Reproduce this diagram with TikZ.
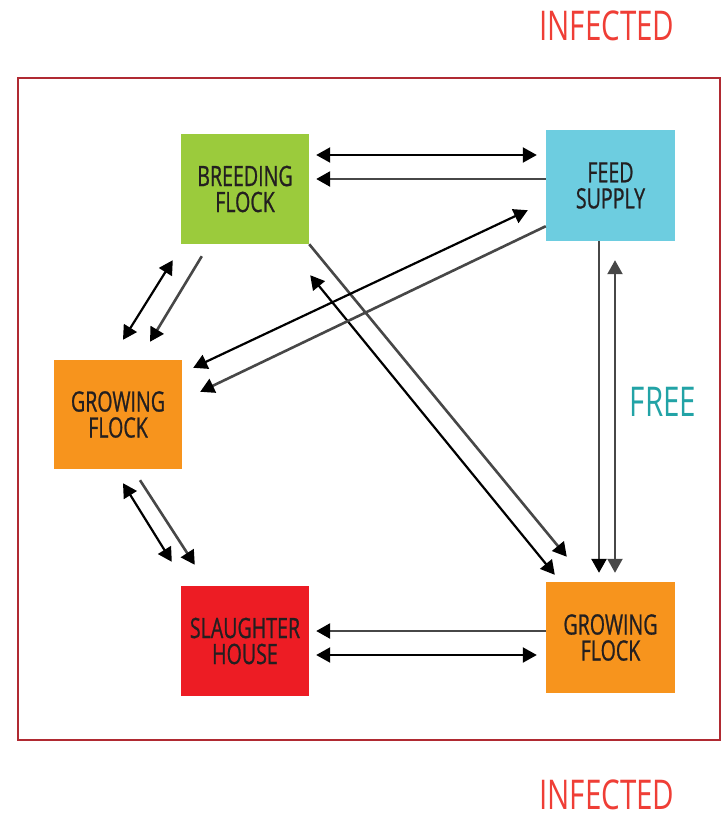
\documentclass[tikz,border=0pt]{standalone}
\usepackage{fontspec}
\setmainfont{Open Sans}[FakeStretch=0.72]
\newfontfamily\boxfont{Open Sans}[FakeStretch=0.70, FakeBold=0.8]
\usetikzlibrary{arrows.meta}
\definecolor{green1}{HTML}{9BCB3C}
\definecolor{cyan1}{HTML}{6DCDE0}
\definecolor{orange1}{HTML}{F7941D}
\definecolor{red1}{HTML}{ED1C24}
\definecolor{frame1}{HTML}{B02A32}
\definecolor{infred}{HTML}{EF3E36}
\definecolor{teal1}{HTML}{22A3A6}
\definecolor{lblk}{HTML}{231F20}
\tikzset{
  box/.style={draw=none, minimum width=128pt, minimum height=110pt, inner sep=0pt,
    align=center, text=lblk, font=\boxfont\fontsize{28}{26}\selectfont},
  tipA/.tip={Triangle[length=14pt,width=15pt]},
  dbl/.style={draw=black, line width=2.2pt, {tipA}-{tipA}},
  sgl/.style={draw=black!72, line width=2.6pt, arrows={-{Triangle[length=14pt,width=15pt,color=black]}}},
  lab/.style={font=\fontsize{41}{41}\selectfont}
}
\begin{document}
\begin{tikzpicture}[x=1pt,y=-1pt]
\useasboundingbox (0,0) rectangle (722,822);
\draw[frame1, line width=1.3pt] (18,78) rectangle (720,740);
\node[lab, text=infred] (inftop) at (607,26) {INFECTED};
\node[lab, text=infred] (infbot) at (607,795) {INFECTED};
\node[lab, text=teal1] (free) at (663,402) {FREE};

\node[box, fill=green1] (breed) at (245,189) {BREEDING\\FLOCK};
\node[box, fill=cyan1, minimum width=129pt, minimum height=111pt] (feed) at (610.5,185.5) {FEED\\SUPPLY};
\node[box, fill=orange1, minimum height=109pt] (growl) at (118,414.5) {GROWING\\FLOCK};
\node[box, fill=red1] (slaught) at (245,641) {SLAUGHTER\\HOUSE};
\node[box, fill=orange1, minimum width=129pt, minimum height=111pt] (growr) at (610.5,637.5) {GROWING\\FLOCK};

% breeding - feed
\draw[dbl] ([shift={(7,-34)}]breed.east) -- ([shift={(-9,-30.5)}]feed.west);
\draw[sgl] ([shift={(0,-6.5)}]feed.west) -- ([shift={(7,-10)}]breed.east);
% breeding - growing right
\draw[sgl] (breed.south east) -- ([shift={(21,-25)}]growr.north west);
\draw[dbl] ([shift={(1,31)}]breed.south east) -- ([shift={(9,-7)}]growr.north west);
% feed - growing left
\draw[dbl] ([shift={(11,8)}]growl.north east) -- ([shift={(-18,-31)}]feed.south west);
\draw[sgl] ([shift={(0,-15)}]feed.south west) -- ([shift={(18,32)}]growl.north east);
% breeding - growing left
\draw[dbl] ([shift={(-8,16)}]breed.south west) -- ([shift={(5,-20)}]growl.north);
\draw[sgl] ([shift={(21,12)}]breed.south west) -- ([shift={(32,-18)}]growl.north);
% growing left - slaughter
\draw[dbl] ([shift={(5,14)}]growl.south) -- ([shift={(-9,-24)}]slaught.north west);
\draw[sgl] ([shift={(22,11)}]growl.south) -- ([shift={(14,-21)}]slaught.north west);
% slaughter - growing right
\draw[sgl] ([shift={(0,-6.5)}]growr.west) -- ([shift={(7,-10)}]slaught.east);
\draw[dbl] ([shift={(7,14)}]slaught.east) -- ([shift={(-9,17.5)}]growr.west);
% feed - growing right
\draw[sgl] ([shift={(-11.5,0)}]feed.south) -- ([shift={(-11.5,-9)}]growr.north);
\draw[dbl, draw=black!72] ([shift={(4.5,19)}]feed.south) -- ([shift={(4.5,-9)}]growr.north);
\end{tikzpicture}
\end{document}
